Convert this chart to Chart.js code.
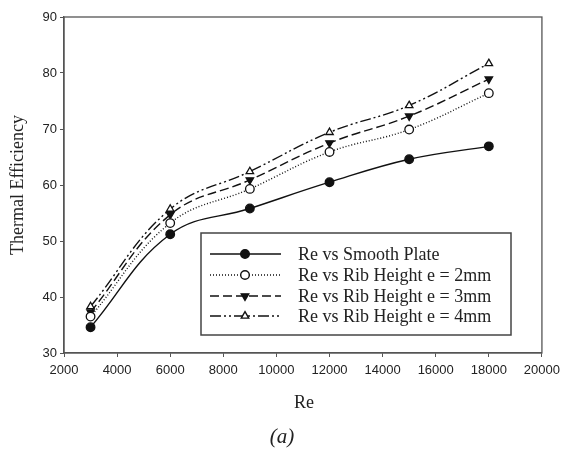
<!DOCTYPE html>
<html>
<head>
<meta charset="utf-8">
<script src="https://cdn.jsdelivr.net/npm/chart.js@4.4.1/dist/chart.umd.min.js"></script>
<style>
  html, body { margin: 0; padding: 0; background: #fff; }
  #wrap { width: 566px; height: 454px; }
</style>
</head>
<body>
<div id="wrap"><canvas id="chart" width="566" height="454"></canvas></div>
<script>
const reynolds = [3000, 6000, 9000, 12000, 15000, 18000];
const smoothPlate = [34.6, 51.2, 55.8, 60.5, 64.6, 66.9];
const rib2mm = [36.5, 53.2, 59.3, 65.9, 69.9, 76.4];
const rib3mm = [37.3, 54.7, 60.9, 67.5, 72.3, 78.9];
const rib4mm = [38.3, 55.7, 62.4, 69.4, 74.2, 81.7];
const xTicks = [2000, 4000, 6000, 8000, 10000, 12000, 14000, 16000, 18000, 20000];
const yTicks = [30, 40, 50, 60, 70, 80, 90];

const serif = "'Liberation Serif', 'Times New Roman', serif";
const sans = "'Liberation Sans', Arial, sans-serif";

function pts(vals) {
  return reynolds.map((x, i) => ({ x: x, y: vals[i] }));
}

const series = [
  { label: 'Re vs Smooth Plate', data: smoothPlate, dash: [], style: 'circle', fill: '#111', rot: 0 },
  { label: 'Re vs Rib Height e = 2mm', data: rib2mm, dash: [1, 2], style: 'circle', fill: '#fff', rot: 0 },
  { label: 'Re vs Rib Height e = 3mm', data: rib3mm, dash: [9, 4], style: 'triangle', fill: '#111', rot: 180 },
  { label: 'Re vs Rib Height e = 4mm', data: rib4mm, dash: [11, 3, 2, 3, 2, 3], style: 'triangle', fill: '#fff', rot: 0 },
];

// legend box + frame + caption
const extras = {
  id: 'extras',
  afterDraw(chart) {
    const c = chart.ctx;
    const a = chart.chartArea;
    c.save();
    c.strokeStyle = '#555';
    c.lineWidth = 1.3;
    c.strokeRect(a.left, a.top, a.right - a.left, a.bottom - a.top);

    // legend
    c.fillStyle = '#fff';
    c.fillRect(201, 233, 310, 102);
    c.strokeStyle = '#444';
    c.lineWidth = 1.5;
    c.strokeRect(201, 233, 310, 102);
    const rows = [254, 275, 296, 316];
    series.forEach((s, i) => {
      const y = rows[i];
      c.strokeStyle = '#111';
      c.lineWidth = 1.4;
      c.setLineDash(s.dash);
      c.beginPath();
      c.moveTo(210, y);
      c.lineTo(281, y);
      c.stroke();
      c.setLineDash([]);
      c.fillStyle = s.fill;
      c.strokeStyle = '#111';
      Chart.helpers.drawPoint(c, { pointStyle: s.style, radius: 4.3, rotation: s.rot, borderWidth: 1.3 }, 245, y);
      c.fillStyle = '#222';
      c.font = '18px ' + serif;
      c.textAlign = 'left';
      c.textBaseline = 'middle';
      c.fillText(s.label, 298, y + 1);
    });

    c.fillStyle = '#222';
    c.textAlign = 'center';
    c.textBaseline = 'middle';
    c.font = '18px ' + serif;
    c.fillText('Re', 304, 403);
    c.font = 'italic 21px ' + serif;
    c.fillText('(a)', 282, 437);
    c.restore();
  }
};

new Chart(document.getElementById('chart'), {
  type: 'line',
  data: {
    datasets: series.map((s) => ({
      label: s.label,
      data: pts(s.data),
      borderColor: '#111',
      borderWidth: 1.4,
      borderDash: s.dash,
      tension: 0.4,
      pointStyle: s.style,
      pointRotation: s.rot,
      pointRadius: 4.3,
      pointBackgroundColor: s.fill,
      pointBorderColor: '#111',
      pointBorderWidth: 1.3,
    })),
  },
  options: {
    responsive: false,
    animation: false,
    layout: { padding: { left: 0, right: 18, top: 17, bottom: 0 } },
    plugins: { legend: { display: false }, tooltip: { enabled: false } },
    scales: {
      x: {
        type: 'linear',
        min: 2000,
        max: 20000,
        afterBuildTicks: (scale) => { scale.ticks = xTicks.map((v) => ({ value: v })); },
        afterFit: (scale) => { scale.height = 101; },
        grid: { drawOnChartArea: false, drawTicks: true, tickLength: 4, color: '#555' },
        border: { color: '#555', width: 1.3 },
        ticks: { color: '#222', font: { family: sans, size: 13 }, padding: 6, maxRotation: 0, callback: (v) => String(v) },
      },
      y: {
        min: 30,
        max: 90,
        afterBuildTicks: (scale) => { scale.ticks = yTicks.map((v) => ({ value: v })); },
        afterFit: (scale) => { scale.width = 64; },
        grid: { drawOnChartArea: false, drawTicks: true, tickLength: 4, color: '#555' },
        border: { color: '#555', width: 1.3 },
        ticks: { color: '#222', font: { family: sans, size: 13 }, padding: 3, callback: (v) => String(v) },
        title: { display: true, text: 'Thermal Efficiency', color: '#222', font: { family: serif, size: 18 }, padding: { top: 7, bottom: 0 } },
      },
    },
  },
  plugins: [extras],
});
</script>
</body>
</html>
